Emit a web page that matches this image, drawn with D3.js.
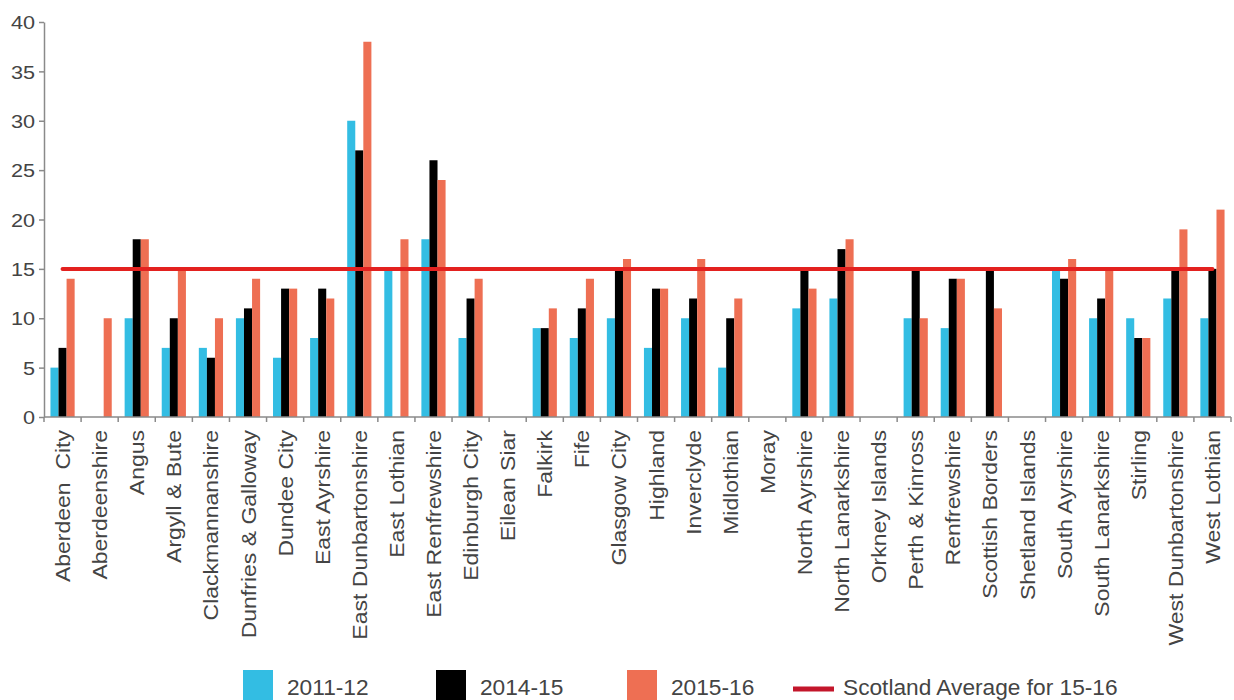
<!DOCTYPE html>
<html>
<head>
<meta charset="utf-8">
<script src="https://cdn.jsdelivr.net/npm/d3@7"></script>
<style>
  html, body { margin: 0; padding: 0; background: #fff; }
  svg { display: block; font-family: "Liberation Sans", Arial, Helvetica, sans-serif; }
</style>
</head>
<body>
<svg id="chart" width="1234" height="700"></svg>
<script>
// Local authorities
const categories = [
  "Aberdeen  City", "Aberdeenshire", "Angus", "Argyll & Bute", "Clackmannanshire",
  "Dunfries & Galloway", "Dundee City", "East Ayrshire", "East Dunbartonshire", "East Lothian",
  "East Renfrewshire", "Edinburgh City", "Eilean Siar", "Falkirk", "Fife",
  "Glasgow City", "Highland", "Inverclyde", "Midlothian", "Moray",
  "North Ayrshire", "North Lanarkshire", "Orkney Islands", "Perth & Kinross", "Renfrewshire",
  "Scottish Borders", "Shetland Islands", "South Ayrshire", "South Lanarkshire", "Stirling",
  "West Dunbartonshire", "West Lothian"
];

// Values per year (null = no figure)
const values2011 = [5, null, 10, 7, 7, 10, 6, 8, 30, 15, 18, 8, null, 9, 8, 10, 7, 10, 5, null, 11, 12, null, 10, 9, null, null, 15, 10, 10, 12, 10];
const values2014 = [7, null, 18, 10, 6, 11, 13, 13, 27, null, 26, 12, null, 9, 11, 15, 13, 12, 10, null, 15, 17, null, 15, 14, 15, null, 14, 12, 8, 15, 15];
const values2015 = [14, 10, 18, 15, 10, 14, 13, 12, 38, 18, 24, 14, null, 11, 14, 16, 13, 16, 12, null, 13, 18, null, 10, 14, 11, null, 16, 15, 8, 19, 21];

const seriesNames = ["2011-12", "2014-15", "2015-16"];
const seriesColors = ["#33bde3", "#000000", "#ee6f53"];
const scotlandAverage = 15;
const averageLabel = "Scotland Average for 15-16";
const yTicks = [0, 5, 10, 15, 20, 25, 30, 35, 40];

const svg = d3.select("#chart");
const plot = { left: 44, right: 1231, top: 22, bottom: 417 };
const textColor = "#444";
const axisColor = "#8a8a8a";

const x = d3.scaleBand().domain(categories).range([plot.left, plot.right]).paddingInner(0).paddingOuter(0);
const xSub = d3.scaleBand().domain(seriesNames).range([0, x.bandwidth()]).paddingInner(0).paddingOuter(0.8);
const y = d3.scaleLinear().domain([0, 40]).range([plot.bottom, plot.top]);

const allSeries = [values2011, values2014, values2015];

// Bars
const groups = svg.append("g").selectAll("g")
  .data(categories)
  .join("g")
  .attr("transform", d => `translate(${x(d)},0)`);

groups.selectAll("rect")
  .data((d, i) => seriesNames.map((s, k) => ({ s, k, v: allSeries[k][i] })).filter(e => e.v != null))
  .join("rect")
  .attr("x", e => xSub(e.s))
  .attr("width", xSub.bandwidth())
  .attr("y", e => y(e.v))
  .attr("height", e => y(0) - y(e.v))
  .attr("fill", e => seriesColors[e.k]);

// Y axis
const yAxis = svg.append("g")
  .attr("transform", `translate(${plot.left},0)`)
  .call(d3.axisLeft(y).tickValues(yTicks).tickSize(5).tickPadding(4).tickSizeOuter(0));
yAxis.select(".domain").attr("stroke", axisColor).attr("stroke-width", 1.5);
yAxis.selectAll(".tick line").attr("stroke", axisColor).attr("stroke-width", 1.5);
yAxis.selectAll(".tick text").remove();
yAxis.selectAll(".tick").append("text")
  .attr("transform", "translate(-9,0) scale(1.17,1)")
  .attr("text-anchor", "end")
  .attr("dy", "0.36em")
  .attr("fill", textColor)
  .style("font-size", "18.5px")
  .text(d => d);

// X axis with boundary ticks
const xAxis = svg.append("g").attr("transform", `translate(0,${plot.bottom})`);
xAxis.append("line")
  .attr("x1", plot.left).attr("x2", plot.right)
  .attr("stroke", axisColor).attr("stroke-width", 1.5);
const boundaries = categories.map(c => x(c)).concat([x(categories[categories.length - 1]) + x.bandwidth()]);
xAxis.selectAll("line.b")
  .data(boundaries)
  .join("line")
  .attr("class", "b")
  .attr("x1", d => d).attr("x2", d => d)
  .attr("y1", 0).attr("y2", 5)
  .attr("stroke", axisColor).attr("stroke-width", 1.5);

xAxis.selectAll("text")
  .data(categories)
  .join("text")
  .attr("transform", d => `translate(${x(d) + x.bandwidth() / 2 + 0.5},13) rotate(-90) scale(1.18,1)`)
  .attr("text-anchor", "end")
  .attr("dy", "0.36em")
  .attr("fill", textColor)
  .style("font-size", "19.5px")
  .style("white-space", "pre")
  .text(d => d);

// Scotland average line
const first = categories[0], last = categories[categories.length - 1];
svg.append("line")
  .attr("x1", x(first) + x.bandwidth() / 2)
  .attr("x2", x(last) + x.bandwidth() / 2)
  .attr("y1", y(scotlandAverage)).attr("y2", y(scotlandAverage))
  .attr("stroke", "#e3211f").attr("stroke-width", 4)
  .attr("stroke-linecap", "round");

// Legend
const legend = svg.append("g");
const legendItems = [
  { label: seriesNames[0], color: seriesColors[0], x: 243 },
  { label: seriesNames[1], color: seriesColors[1], x: 436 },
  { label: seriesNames[2], color: seriesColors[2], x: 627 }
];
legendItems.forEach(it => {
  legend.append("rect").attr("x", it.x).attr("y", 670).attr("width", 30).attr("height", 32).attr("fill", it.color);
  legend.append("text").attr("x", it.x + 44).attr("y", 695)
    .attr("fill", textColor).style("font-size", "22.7px").text(it.label);
});
legend.append("line")
  .attr("x1", 793).attr("x2", 834).attr("y1", 689).attr("y2", 689)
  .attr("stroke", "#c3162b").attr("stroke-width", 5);
legend.append("text").attr("x", 843).attr("y", 695)
  .attr("fill", textColor).style("font-size", "22.7px").text(averageLabel);
</script>
</body>
</html>
